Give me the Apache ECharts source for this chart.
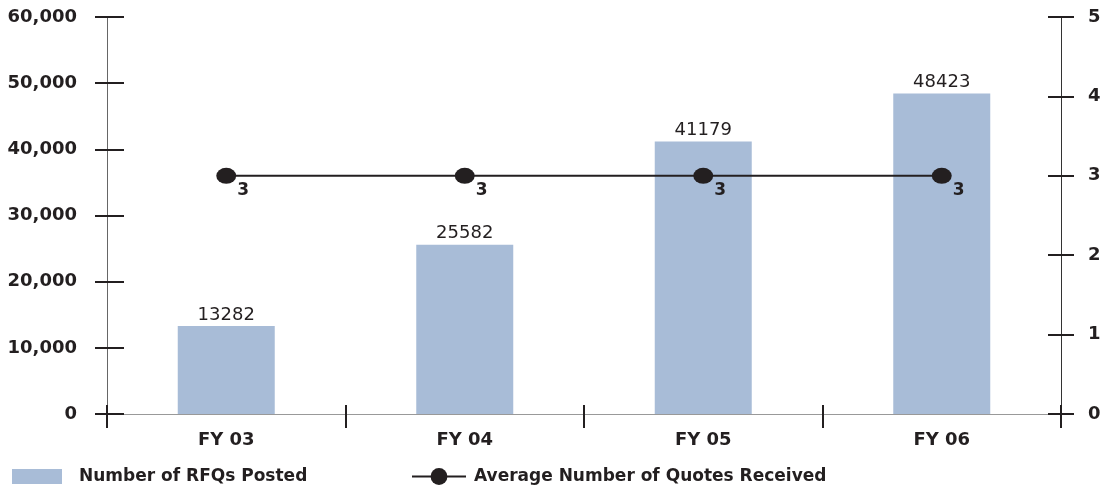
<!DOCTYPE html>
<html>
<head>
<meta charset="utf-8">
<script src="https://cdn.jsdelivr.net/npm/echarts@6/dist/echarts.min.js"></script>
<style>
html,body{margin:0;padding:0;background:#fff;}
#c{width:1105px;height:490px;}
</style>
</head>
<body>
<div id="c"></div>
<script>
const categories = ['FY 03', 'FY 04', 'FY 05', 'FY 06'];
const rfqsPosted = [13282, 25582, 41179, 48423];
const avgQuotes = [3, 3, 3, 3];
const leftTicks = {min: 0, max: 60000, interval: 10000};
const rightTicks = {min: 0, max: 5, interval: 1};
const barName = 'Number of RFQs Posted';
const lineName = 'Average Number of Quotes Received';

const ink = '#231f20';
const bold = 'DejaVu Sans';

const chart = echarts.init(document.getElementById('c'));
const tickStyle = {color: ink, width: 2};
chart.setOption({
  animation: false,
  grid: {left: 107, right: 44, top: 17, bottom: 76, containLabel: false},
  legend: [
    {data: [{name: barName, icon: 'rect'}], left: 7, top: 463, itemWidth: 50, itemHeight: 15, itemGap: 0,
     textStyle: {fontFamily: bold, fontWeight: 'bold', fontSize: 17, color: ink, padding: [0,0,0,12]}},
    {data: [lineName], left: 406, top: 463, itemWidth: 54, itemHeight: 21, itemGap: 0,
     textStyle: {fontFamily: bold, fontWeight: 'bold', fontSize: 17, color: ink, padding: [0,0,0,3]}}
  ],
  xAxis: [
    {type: 'category', data: categories, position: 'bottom', boundaryGap: true,
     axisLine: {show: true, lineStyle: {color: '#777', width: 1}},
     axisTick: {show: true, inside: false, length: 14, lineStyle: tickStyle},
     axisLabel: {margin: 17, fontFamily: bold, fontWeight: 'bold', fontSize: 18, color: ink},
     splitLine: {show: false}},
    {type: 'category', data: categories, position: 'bottom', boundaryGap: true,
     axisLine: {show: false},
     axisTick: {show: true, inside: true, length: 9, lineStyle: tickStyle},
     axisLabel: {show: false}, splitLine: {show: false}},
    {type: 'category', data: categories, position: 'top', boundaryGap: true,
     axisLine: {show: true, lineStyle: {color: '#999', width: 1}},
     axisTick: {show: false}, axisLabel: {show: false}, splitLine: {show: false}}
  ],
  yAxis: [
    {type: 'value', position: 'left', min: leftTicks.min, max: leftTicks.max, interval: leftTicks.interval,
     axisLine: {show: true, lineStyle: {color: '#666', width: 1}},
     axisTick: {show: true, inside: false, length: 12, lineStyle: tickStyle},
     axisLabel: {margin: 30, fontFamily: bold, fontWeight: 'bold', fontSize: 18, color: ink,
       formatter: v => v.toLocaleString('en-US')},
     splitLine: {show: false}},
    {type: 'value', position: 'right', min: rightTicks.min, max: rightTicks.max, interval: rightTicks.interval,
     axisLine: {show: true, lineStyle: {color: '#333', width: 1}},
     axisTick: {show: true, inside: false, length: 13, lineStyle: tickStyle},
     axisLabel: {margin: 27, fontFamily: bold, fontWeight: 'bold', fontSize: 18, color: ink},
     splitLine: {show: false}},
    {type: 'value', position: 'left', min: leftTicks.min, max: leftTicks.max, interval: leftTicks.interval,
     axisLine: {show: false},
     axisTick: {show: true, inside: true, length: 17, lineStyle: tickStyle},
     axisLabel: {show: false}, splitLine: {show: false}},
    {type: 'value', position: 'right', min: rightTicks.min, max: rightTicks.max, interval: rightTicks.interval,
     axisLine: {show: false},
     axisTick: {show: true, inside: true, length: 13, lineStyle: tickStyle},
     axisLabel: {show: false}, splitLine: {show: false}}
  ],
  series: [
    {name: barName, type: 'bar', data: rfqsPosted, xAxisIndex: 0, yAxisIndex: 0, barWidth: 97,
     itemStyle: {color: '#a8bcd7'},
     label: {show: true, position: 'top', distance: 2, fontFamily: bold, fontSize: 18, color: ink}},
    {name: lineName, type: 'line', data: avgQuotes, xAxisIndex: 0, yAxisIndex: 1,
     symbol: 'circle', symbolSize: [20, 16], showAllSymbol: true,
     lineStyle: {color: ink, width: 2}, itemStyle: {color: ink},
     label: {show: true, position: 'inside', offset: [17, 15], fontFamily: bold, fontWeight: 'bold', fontSize: 17, color: ink}}
  ]
});
</script>
</body>
</html>
